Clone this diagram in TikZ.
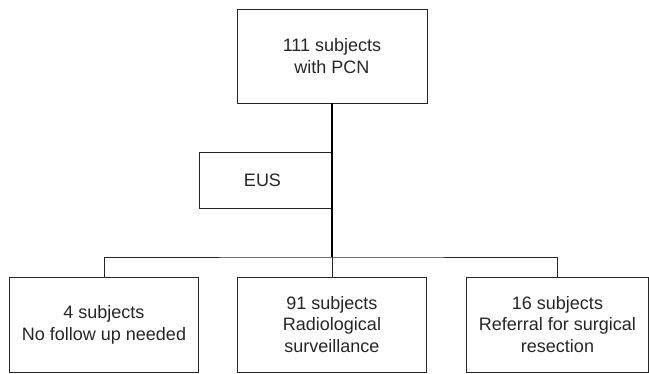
\documentclass[tikz,border=0pt]{standalone}
\usepackage{fontspec}
\setmainfont{Liberation Sans}
\usepackage{tikz}
\usetikzlibrary{positioning}

\begin{document}
\begin{tikzpicture}[
	x=1pt, y=1pt,
	box/.style={draw=black!85, line width=1pt, align=center, inner sep=0pt, outer sep=0pt,
		text=black!85, font=\fontsize{18}{21.7}\selectfont},
	link/.style={draw=black!85, line width=0.9pt}
]

\useasboundingbox (0,0) rectangle (649,-373);

\node [box, minimum width=190pt, minimum height=94pt] (1) at (332,-56) {
	111 subjects \\
	with PCN
};

\node [box, minimum width=132pt, minimum height=56pt, below left=49pt and 1pt of 1.south] (2) {
	EUS
};

\node [box, minimum width=189pt, minimum height=95pt, below=174pt of 1] (4) {
	91 subjects \\
	Radiological \\
	surveillance
};

\node [box, minimum width=189pt, minimum height=95pt, left=39pt of 4] (3) {
	4 subjects \\
	No follow up needed
};

\node [box, minimum width=182pt, minimum height=95pt, right=40pt of 4] (5) {
	16 subjects \\
	Referral for surgical \\
	resection
};

\coordinate [above=20pt of 4] (j);

\path [draw, line width=2pt] (1.south) -- (j);
\path [link] (j) -- (4);
\path [link] (3) |- (j) -| (5);

\end{tikzpicture}
\end{document}
